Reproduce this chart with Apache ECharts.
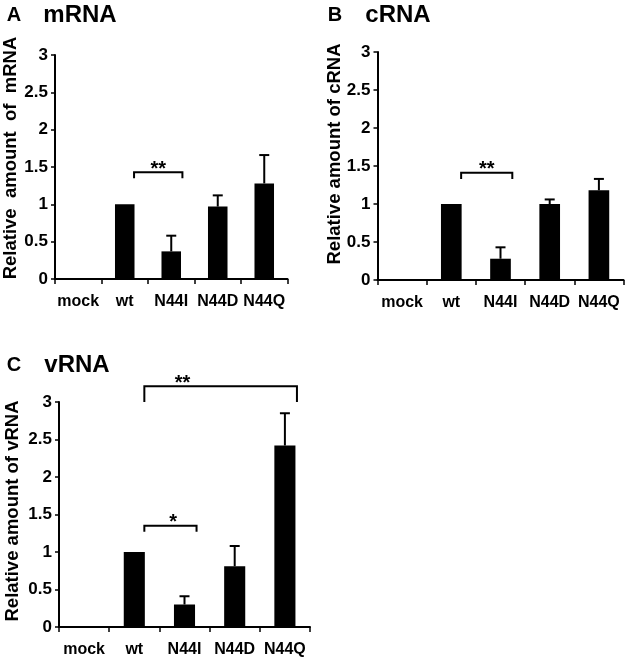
<!DOCTYPE html>
<html>
<head>
<meta charset="utf-8">
<script src="https://cdn.jsdelivr.net/npm/echarts@6/dist/echarts.min.js"></script>
<style>
html,body{margin:0;padding:0;background:#fff;}
#chart{width:630px;height:665px;}
</style>
</head>
<body>
<div id="chart"></div>
<script>
// ---- data ----
const categories = ['mock', 'wt', 'N44I', 'N44D', 'N44Q'];
const yTicks = ['0', '0.5', '1', '1.5', '2', '2.5', '3'];

const mRNA = [0, 1.0, 0.37, 0.97, 1.28];
const mRNAErr = [0, 0, 0.21, 0.15, 0.38];

const cRNA = [0, 1.0, 0.28, 1.0, 1.18];
const cRNAErr = [0, 0, 0.15, 0.06, 0.15];

const vRNA = [0, 1.0, 0.30, 0.81, 2.42];
const vRNAErr = [0, 0, 0.11, 0.27, 0.43];

// significance brackets: [fromCategory, toCategory, height, endHeight, text]
const mRNABrackets = [[1, 2, 1.43, 1.35, '**']];
const cRNABrackets = [[1, 2, 1.41, 1.33, '**']];
const vRNABrackets = [[1, 2, 1.35, 1.27, '*'], [1, 4, 3.21, 3.0, '**']];

const panelLetters = ['A', 'B', 'C'];
const panelNames = ['mRNA', 'cRNA', 'vRNA'];
const yTitles = ['Relative  amount  of  mRNA', 'Relative amount of cRNA', 'Relative amount of vRNA'];

// ---- chart ----
const FONT = '"Liberation Sans", Arial, Helvetica, sans-serif';
const grids = [
  {left: 55, top: 55, width: 232.5, height: 224},
  {left: 377.5, top: 52, width: 246, height: 228},
  {left: 59, top: 402, width: 251, height: 225}
];
const series = [];
const xAxes = [];
const yAxes = [];
const datasets = [[mRNA, mRNAErr, mRNABrackets], [cRNA, cRNAErr, cRNABrackets], [vRNA, vRNAErr, vRNABrackets]];
// bracket label anchor along bracket (fraction), per panel/bracket
const labelAnchor = [[0.5], [0.5], [0.55, 0.25]];

datasets.forEach((d, i) => {
  xAxes.push({
    type: 'category', gridIndex: i, data: categories,
    axisLine: {lineStyle: {color: '#000', width: 2}},
    axisTick: {show: true, length: 5, lineStyle: {color: '#000', width: 1.5}},
    axisLabel: {color: '#000', fontWeight: 'bold', fontSize: 16, fontFamily: FONT, margin: 15, interval: 0},
    splitLine: {show: false}
  });
  yAxes.push({
    type: 'value', gridIndex: i, min: 0, max: 3, interval: 0.5,
    axisLine: {show: true, lineStyle: {color: '#000', width: 2}},
    axisTick: {show: true, length: 4, lineStyle: {color: '#000', width: 1.5}},
    axisLabel: {color: '#000', fontWeight: 'bold', fontSize: 17, fontFamily: FONT, margin: 7,
      formatter: v => yTicks[Math.round(v * 2)]},
    splitLine: {show: false}
  });
  const vals = d[0], errs = d[1], brs = d[2];
  series.push({
    type: 'bar', xAxisIndex: i, yAxisIndex: i, data: vals, barWidth: '42%',
    itemStyle: {color: '#000'}, silent: true, animation: false
  });
  series.push({
    type: 'custom', xAxisIndex: i, yAxisIndex: i, animation: false, silent: true, clip: false,
    data: vals.map((v, k) => [k, v, errs[k]]),
    renderItem: (params, api) => {
      const e = api.value(2);
      if (!e) return null;
      const x = api.value(0), v = api.value(1);
      const p0 = api.coord([x, v]);
      const p1 = api.coord([x, v + e]);
      const style = {stroke: '#000', lineWidth: 2};
      return {type: 'group', children: [
        {type: 'line', shape: {x1: p0[0], y1: p0[1], x2: p1[0], y2: p1[1]}, style},
        {type: 'line', shape: {x1: p1[0] - 5, y1: p1[1], x2: p1[0] + 5, y2: p1[1]}, style}
      ]};
    }
  });
  series.push({
    type: 'custom', xAxisIndex: i, yAxisIndex: i, animation: false, silent: true, clip: false,
    data: brs.map(b => [b[0], b[1], b[2], b[3]]),
    renderItem: (params, api) => {
      const band = api.size([1, 0])[0];
      const a = api.value(0), b = api.value(1), h = api.value(2), h2 = api.value(3);
      const pa = api.coord([a, h]), pb = api.coord([b, h]);
      const xa = pa[0] + band * 0.2, xb = pb[0] + band * 0.24;
      const y = pa[1], y2 = api.coord([a, h2])[1];
      const style = {stroke: '#000', lineWidth: 2, fill: null};
      const text = brs[params.dataIndex][4];
      const f = labelAnchor[i][params.dataIndex];
      return {type: 'group', children: [
        {type: 'polyline', shape: {points: [[xa, y2], [xa, y], [xb, y], [xb, y2]]}, style},
        {type: 'text', x: xa + (xb - xa) * f, y: y - 3,
          style: {text: text, fill: '#000', font: 'bold 20px ' + FONT, textAlign: 'center', textVerticalAlign: 'middle'}}
      ]};
    }
  });
});

const graphics = [];
const letterPos = [[14, 15], [335, 15], [14, 365]];
const namePos = [[80, 15], [398, 15], [77, 365]];
const ytPos = [[11, 158], [335, 154], [13, 511]];
for (let i = 0; i < 3; i++) {
  graphics.push({type: 'text', x: letterPos[i][0], y: letterPos[i][1],
    style: {text: panelLetters[i], fill: '#000', font: 'bold 20px ' + FONT, textAlign: 'center', textVerticalAlign: 'middle'}});
  graphics.push({type: 'text', x: namePos[i][0], y: namePos[i][1],
    style: {text: panelNames[i], fill: '#000', font: 'bold 24px ' + FONT, textAlign: 'center', textVerticalAlign: 'middle'}});
  graphics.push({type: 'text', x: ytPos[i][0], y: ytPos[i][1], rotation: Math.PI / 2,
    style: {text: yTitles[i], fill: '#000', font: 'bold 18.5px ' + FONT, textAlign: 'center', textVerticalAlign: 'middle'}});
}

const chart = echarts.init(document.getElementById('chart'), null, {renderer: 'canvas'});
chart.setOption({
  backgroundColor: '#fff',
  animation: false,
  grid: grids,
  xAxis: xAxes,
  yAxis: yAxes,
  series: series,
  graphic: graphics
});
</script>
</body>
</html>
